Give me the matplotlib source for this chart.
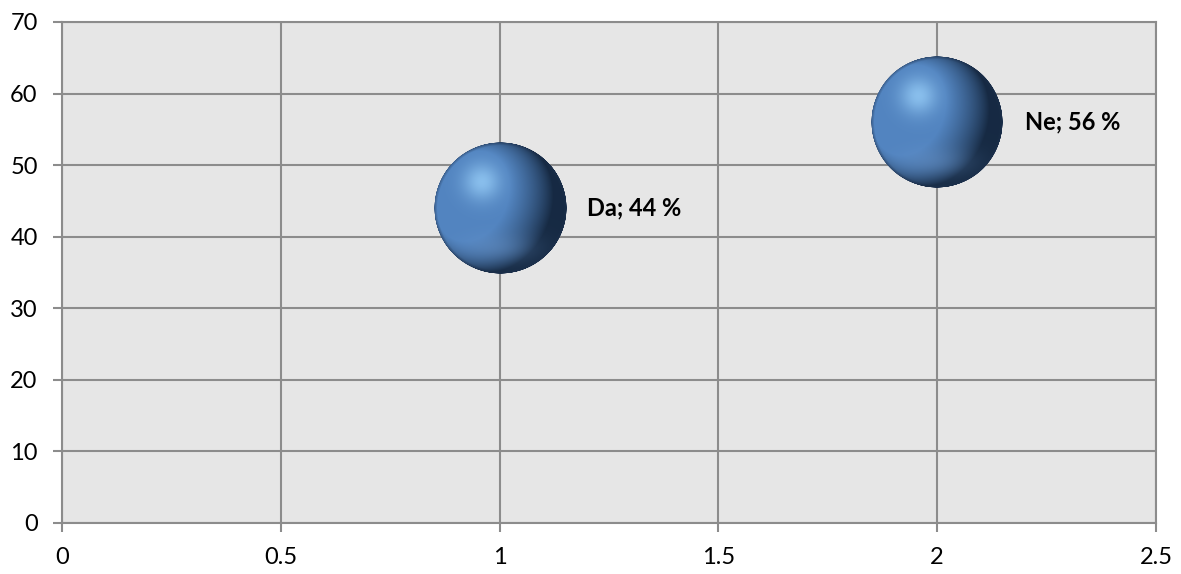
import matplotlib
matplotlib.use('Agg')
import matplotlib.pyplot as plt
import numpy as np
from matplotlib.offsetbox import OffsetImage, AnnotationBbox

# data
answers = ['Da', 'Ne']
x_vals = [1, 2]
percents = [44, 56]

plt.rcParams['font.family'] = ['Lato', 'DejaVu Sans']


def sphere_image(n=400):
    """Shaded blue ball as an RGBA array."""
    u = np.linspace(-1, 1, n)
    xx, yy = np.meshgrid(u, -u)
    rr = np.sqrt(xx**2 + yy**2)
    zz = np.sqrt(np.clip(1 - rr**2, 0, 1))
    light = np.array([-0.6, 0.25, 0.75])
    light = light / np.linalg.norm(light)
    diff = np.clip(xx * light[0] + yy * light[1] + zz * light[2], 0, 1)
    base = np.array([82, 132, 192]) / 255.0
    dark = np.array([12, 26, 45]) / 255.0
    hi = np.array([160, 215, 255]) / 255.0
    t = diff[..., None]
    col = dark + (base - dark) * np.clip(0.15 + t * 1.2, 0, 1)
    # soft highlight up-left
    hx, hy = -0.28, 0.4
    h = np.exp(-((xx - hx)**2 + (yy - hy)**2) / 0.08)[..., None]
    col = col * (1 - 0.7 * h) + hi * 0.7 * h
    # reflection near the bottom
    b = np.exp(-((xx + 0.05)**2 / 0.3 + (yy + 0.6)**2 / 0.05))[..., None]
    col = col + (np.array([105, 150, 205]) / 255.0 - col) * 0.45 * b
    # dark rim
    rim = np.clip((rr - 0.95) / 0.05, 0, 1)[..., None]
    col = col * (1 - 0.5 * rim) + np.array([30, 50, 80]) / 255.0 * 0.5 * rim
    alpha = np.clip((1 - rr) * n / 2, 0, 1)
    return np.dstack([np.clip(col, 0, 1), alpha])


fig, ax = plt.subplots(figsize=(11.81, 5.74), dpi=100)
fig.subplots_adjust(left=0.0525, right=0.9788, top=0.9617, bottom=0.0889)
ax.set_facecolor('#e6e6e6')

ax.set_xlim(0, 2.5)
ax.set_ylim(0, 70)
ax.set_xticks(np.arange(0, 2.51, 0.5))
ax.set_xticklabels(['0', '0.5', '1', '1.5', '2', '2.5'])
ax.set_yticks(np.arange(0, 71, 10))
ax.grid(True, color='#8c8c8c', linewidth=1.5)
ax.set_axisbelow(True)
for s in ax.spines.values():
    s.set_color('#8c8c8c')
    s.set_linewidth(1.5)
ax.tick_params(length=6.5, width=1.5, color='#8c8c8c', pad=11,
               labelsize=17, labelcolor='black')

img = sphere_image()
for name, x, p in zip(answers, x_vals, percents):
    ab = AnnotationBbox(OffsetImage(img, zoom=132 / img.shape[0], dpi_cor=False),
                        (x, p), frameon=False, pad=0)
    ax.add_artist(ab)
    ax.annotate('%s; %d %%' % (name, p), (x, p), xytext=(63, 0),
                textcoords='offset points', va='center', ha='left',
                fontsize=17, fontweight='bold')

plt.savefig('out.png')
